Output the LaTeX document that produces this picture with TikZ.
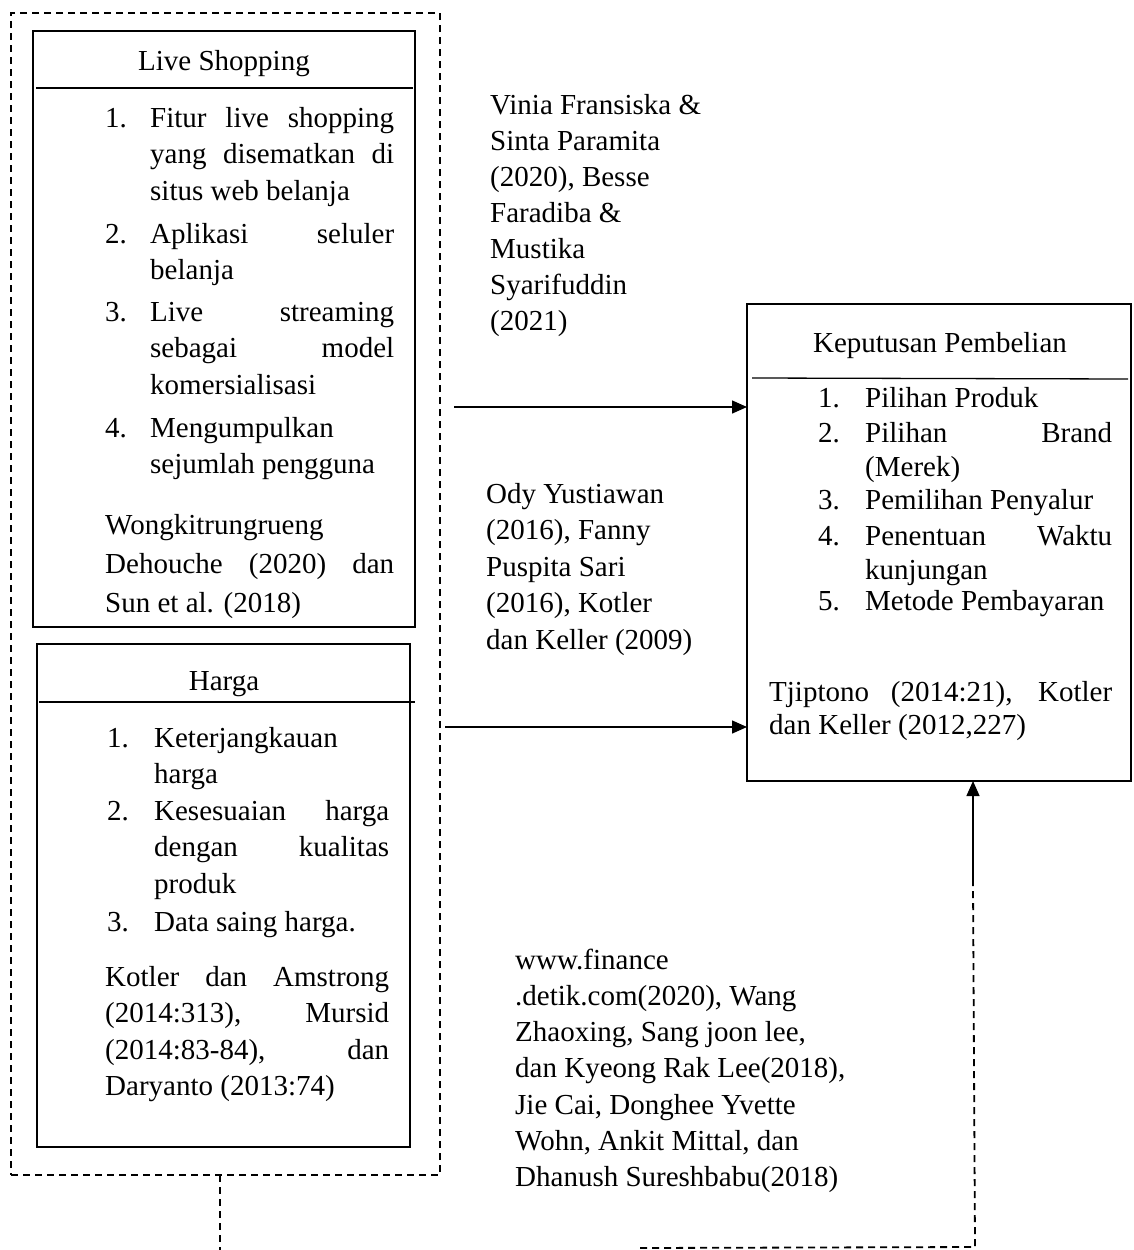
\documentclass[tikz,border=0pt]{standalone}
\usepackage{fontspec}
\setmainfont{Liberation Serif}
\usetikzlibrary{arrows.meta}
\newcommand\jl[1]{\makebox[\linewidth][s]{#1}}
\newcommand\numitem[4]{\makebox[#1][l]{#2}\parbox[t]{#3}{#4}}
\newcommand\tblock[2]{\parbox[t]{#1}{\raggedright #2}}
\begin{document}
\begin{tikzpicture}[x=1pt,y=-1pt,
  boxA/.style={draw, line width=2.8pt, anchor=north west, inner sep=0pt, outer sep=0pt},
  boxB/.style={draw, line width=2.2pt, anchor=north west, inner sep=0pt, outer sep=0pt},
  hline/.style={line width=1.3pt},
  dsh/.style={line width=1.8pt, dash pattern=on 7pt off 5pt},
  txt/.style={anchor=base west, inner sep=0pt, font=\fontsize{29}{36.5}\selectfont},
  txtk/.style={anchor=base west, inner sep=0pt, font=\fontsize{29}{34}\selectfont},
  ttl/.style={anchor=base, inner sep=0pt, font=\fontsize{29}{36}\selectfont},
  arr/.style={line width=1.4pt, -{Triangle[length=15pt,width=13pt]}}]
\useasboundingbox (0,0) rectangle (1133,1250);

% outer dashed group
\node[draw, dsh, anchor=north west, inner sep=0pt, outer sep=0pt,
      minimum width=429, minimum height=1162] (grp) at (11,13) {};

% Live Shopping box
\node[boxA, minimum width=382, minimum height=596] (ls) at (33,31) {};
\node[ttl] (lst) at (224,70) {Live Shopping};
\draw[hline] (36,88) -- (413,88);
\node[txt] (ls1) at (105,127) {\numitem{45pt}{1.}{244pt}{\jl{Fitur live shopping}\\\jl{yang disematkan di}\\situs web belanja}};
\node[txt] (ls2) at (105,243) {\numitem{45pt}{2.}{244pt}{\jl{Aplikasi seluler}\\belanja}};
\node[txt] (ls3) at (105,321) {\numitem{45pt}{3.}{244pt}{\jl{Live streaming}\\\jl{sebagai model}\\komersialisasi}};
\node[txt] (ls4) at (105,437) {\numitem{45pt}{4.}{244pt}{Mengumpulkan\\sejumlah pengguna}};
\node[txt, font=\fontsize{29}{39}\selectfont] (lsc) at (105,534) {\parbox[t]{289pt}{Wongkitrungrueng\\\jl{Dehouche (2020) dan}\\Sun et al. (2018)}};

% Harga box
\node[boxA, minimum width=373, minimum height=503] (hg) at (37,644) {};
\node[ttl] (hgt) at (224,690) {Harga};
\draw[hline] (39,702) -- (415,702);
\node[txt] (hg1) at (107,747) {\numitem{47pt}{1.}{235pt}{Keterjangkauan\\harga}};
\node[txt] (hg2) at (107,820) {\numitem{47pt}{2.}{235pt}{\jl{Kesesuaian harga}\\\jl{dengan kualitas}\\produk}};
\node[txt] (hg3) at (107,931) {\numitem{47pt}{3.}{235pt}{Data saing harga.}};
\node[txt] (hgc) at (105,986) {\parbox[t]{284pt}{\jl{Kotler dan Amstrong}\\\jl{(2014:313), Mursid}\\\jl{(2014:83-84), dan}\\Daryanto (2013:74)}};

% Keputusan Pembelian box
\node[boxB, minimum width=384, minimum height=477] (kp) at (747,304) {};
\node[ttl] (kpt) at (940,352) {Keputusan Pembelian};
\draw[hline] (752,378) -- (1128,379);
\node[txtk] (kp1) at (818,407) {\numitem{47pt}{1.}{247pt}{Pilihan Produk}};
\node[txtk] (kp2) at (818,442) {\numitem{47pt}{2.}{247pt}{\jl{Pilihan Brand}\\(Merek)}};
\node[txtk] (kp3) at (818,509) {\numitem{47pt}{3.}{247pt}{Pemilihan Penyalur}};
\node[txtk] (kp4) at (818,545) {\numitem{47pt}{4.}{247pt}{\jl{Penentuan Waktu}\\kunjungan}};
\node[txtk] (kp5) at (818,610) {\numitem{47pt}{5.}{247pt}{Metode Pembayaran}};
\node[txt, font=\fontsize{29}{33}\selectfont] (kpc) at (769,701) {\parbox[t]{343pt}{\jl{Tjiptono (2014:21), Kotler}\\dan Keller (2012,227)}};

% reference labels
\node[txt, font=\fontsize{29}{36.1}\selectfont] (r1) at (490,114) {\tblock{240pt}{Vinia Fransiska \&\\Sinta Paramita\\(2020), Besse\\Faradiba \&\\Mustika\\Syarifuddin\\(2021)}};
\node[txt] (r2) at (486,503) {\tblock{240pt}{Ody Yustiawan\\(2016), Fanny\\Puspita Sari\\(2016), Kotler\\dan Keller (2009)}};
\node[txt, font=\fontsize{29}{36.3}\selectfont] (r3) at (515,969) {\tblock{360pt}{www.finance\\.detik.com(2020), Wang\\Zhaoxing, Sang joon lee,\\dan Kyeong Rak Lee(2018),\\Jie Cai, Donghee Yvette\\Wohn, Ankit Mittal, dan\\Dhanush Sureshbabu(2018)}};

% arrows
\coordinate (a1) at (454,407);
\draw[arr] (a1) -- (a1 -| kp.west);
\coordinate (a2) at (445,727);
\draw[arr] (a2) -- (a2 -| kp.west);

% bottom connector
\coordinate (g1) at (220,1175);
\coordinate (g2) at (220,1250);
\draw[dsh] (g1) -- (g2);
\coordinate (c1) at (640,1248);
\coordinate (c2) at (975,1247);
\coordinate (c3) at (973,883);
\draw[dsh] (c1) -- (c2) -- (c3);
\draw[arr] (c3) -- (c3 |- kp.south);
\end{tikzpicture}
\end{document}
